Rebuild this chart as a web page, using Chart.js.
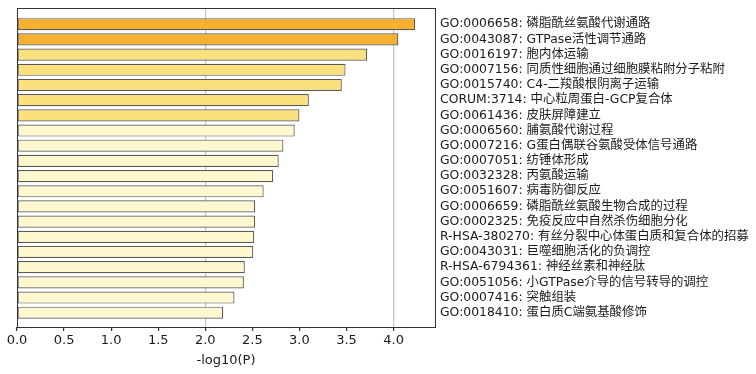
<!DOCTYPE html>
<html lang="zh">
<head>
	<meta charset="UTF-8">
	<title>-log10(P)</title>
	<style>
		html, body { margin: 0; padding: 0; background: #ffffff; }
		#box { width: 756px; height: 374px; }
	</style>
</head>
<body>
	<div id="box"><canvas id="canvas1" width="756" height="374"></canvas></div>

	<script src="https://cdn.jsdelivr.net/npm/chart.js"></script>
	<script>
		// 条目名称 (从上到下)
		const labels = [
			'GO:0006658: 磷脂酰丝氨酸代谢通路',
			'GO:0043087: GTPase活性调节通路',
			'GO:0016197: 胞内体运输',
			'GO:0007156: 同质性细胞通过细胞膜粘附分子粘附',
			'GO:0015740: C4-二羧酸根阴离子运输',
			'CORUM:3714: 中心粒周蛋白-GCP复合体',
			'GO:0061436: 皮肤屏障建立',
			'GO:0006560: 脯氨酸代谢过程',
			'GO:0007216: G蛋白偶联谷氨酸受体信号通路',
			'GO:0007051: 纺锤体形成',
			'GO:0032328: 丙氨酸运输',
			'GO:0051607: 病毒防御反应',
			'GO:0006659: 磷脂酰丝氨酸生物合成的过程',
			'GO:0002325: 免疫反应中自然杀伤细胞分化',
			'R-HSA-380270: 有丝分裂中心体蛋白质和复合体的招募',
			'GO:0043031: 巨噬细胞活化的负调控',
			'R-HSA-6794361: 神经丝素和神经肽',
			'GO:0051056: 小GTPase介导的信号转导的调控',
			'GO:0007416: 突触组装',
			'GO:0018410: 蛋白质C端氨基酸修饰'
		];

		// -log10(P) 数值
		const logP = [4.23, 4.05, 3.72, 3.49, 3.45, 3.10, 3.00, 2.95, 2.83, 2.78,
		              2.72, 2.62, 2.53, 2.53, 2.52, 2.51, 2.42, 2.41, 2.31, 2.19];

		// 颜色分组: 0 = 橙, 1 = 黄, 2 = 浅黄
		const colorGroup = [0, 0, 1, 1, 1, 1, 1, 2, 2, 2,
		                    2, 2, 2, 2, 2, 2, 2, 2, 2, 2];

		const xTicks = [0, 0.5, 1.0, 1.5, 2.0, 2.5, 3.0, 3.5, 4.0];

		const palette = ['rgb(248,176,47)', 'rgb(253,224,126)', 'rgb(255,247,206)'];

		// 外框
		const frame = {
			id: 'frame',
			afterDraw(chart) {
				const a = chart.chartArea;
				const c = chart.ctx;
				c.save();
				c.strokeStyle = '#333333';
				c.lineWidth = 1;
				c.strokeRect(Math.round(a.left) + 0.5, Math.round(a.top) + 0.5,
					Math.round(a.right - a.left), Math.round(a.bottom - a.top));
				c.restore();
			}
		};

		const font = "'DejaVu Sans', 'Noto Sans CJK SC', sans-serif";

		const config = {
			type: 'bar',
			data: {
				datasets: [{
					data: logP.map((v, i) => ({ x: v, y: i })),
					backgroundColor: colorGroup.map(g => palette[g]),
					borderColor: '#5a5a5a',
					borderWidth: 1.2,
					borderSkipped: false,
					barPercentage: 0.8,
					categoryPercentage: 1.0
				}]
			},
			options: {
				indexAxis: 'y',
				responsive: false,
				animation: false,
				layout: { padding: { left: 17, top: 8, right: 0, bottom: 0 } },
				plugins: {
					legend: { display: false },
					tooltip: { enabled: false }
				},
				scales: {
					x: {
						type: 'linear',
						min: 0,
						max: 4.44,
						afterBuildTicks: (scale) => { scale.ticks = xTicks.map(v => ({ value: v })); },
						afterFit: (scale) => { scale.height = 47; },
						border: { display: false },
						grid: {
							color: (ctx) => (ctx.tick && ctx.tick.value > 0 && ctx.tick.value % 2 === 0) ? '#c4c4c4' : 'rgba(0,0,0,0)',
							lineWidth: 1.2,
							tickColor: '#333333',
							tickLength: 4
						},
						ticks: {
							color: '#1a1a1a',
							font: { family: font, size: 13 },
							padding: 2,
							maxRotation: 0,
							callback: (v) => Number(v).toFixed(1)
						},
						title: {
							display: true,
							text: '-log10(P)',
							color: '#1a1a1a',
							font: { family: font, size: 13 },
							padding: { top: 0, bottom: 6 }
						}
					},
					y: {
						type: 'linear',
						position: 'right',
						reverse: true,
						offset: false,
						min: -1.07,
						max: 19.94,
						afterBuildTicks: (scale) => { scale.ticks = labels.map((_, i) => ({ value: i })); },
						afterFit: (scale) => {
							scale.width = 321;
							scale.paddingTop = 0;
							scale.paddingBottom = 0;
						},
						border: { display: false },
						grid: { display: false, drawTicks: false, offset: false },
						ticks: {
							color: '#1a1a1a',
							font: { family: font, size: 12.4 },
							padding: 5,
							autoSkip: false,
							callback: (v) => labels[v]
						}
					}
				}
			},
			plugins: [frame]
		};

		const resultChart = new Chart(document.getElementById('canvas1').getContext('2d'), config);
	</script>
</body>
</html>
